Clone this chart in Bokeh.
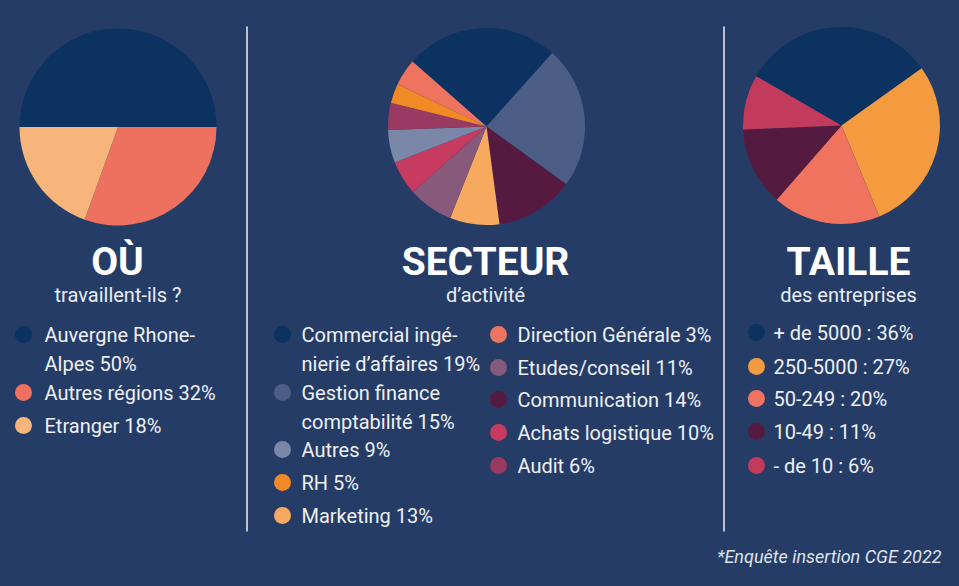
import math
from bokeh.plotting import figure
from bokeh.models import Range1d
from bokeh.core.properties import value
from bokeh.embed import file_html
from bokeh.resources import INLINE

# ---------------- data ----------------
# OÙ travaillent-ils ?
ou_labels = ["Auvergne Rhone-\nAlpes 50%", "Autres régions 32%", "Etranger 18%"]
ou_parts = [50.0, 30.5, 19.5]          # slice shares as drawn in the picture
ou_colors = ["#0b3260", "#ee715f", "#f8b57b"]

# SECTEUR d'activité (pie order, clockwise)
sect_names = ["Commercial ingénierie d’affaires", "Gestion finance comptabilité",
              "Communication", "Marketing", "Etudes/conseil", "Achats logistique",
              "Autres", "Audit", "RH", "Direction Générale"]
sect_parts = [25.1, 23.3, 12.9, 8.1, 7.4, 5.6, 5.4, 4.4, 3.2, 4.4]
sect_colors = ["#0b3260", "#4d5e86", "#561a40", "#f7a95f", "#87597a",
               "#c63b5f", "#7b87a9", "#9a3a62", "#f18a25", "#ef7460"]
sect_legend_left = ["Commercial ingé-\nnierie d’affaires 19%", "Gestion finance\ncomptabilité 15%",
                    "Autres 9%", "RH 5%", "Marketing 13%"]
sect_legend_left_colors = ["#0b3260", "#4d5e86", "#7b87a9", "#f18a25", "#f7a95f"]
sect_legend_right = ["Direction Générale 3%", "Etudes/conseil 11%", "Communication 14%",
                     "Achats logistique 10%", "Audit 6%"]
sect_legend_right_colors = ["#ef7460", "#87597a", "#561a40", "#c63b5f", "#9a3a62"]

# TAILLE des entreprises
taille_labels = ["+ de 5000 : 36%", "250-5000 : 27%", "50-249 : 20%", "10-49 : 11%", "- de 10 : 6%"]
taille_parts = [31.8, 28.6, 17.7, 12.9, 9.0]
taille_colors = ["#0b3260", "#f39b3e", "#ef735f", "#551a3f", "#c23b5d"]

titles = ["OÙ", "SECTEUR", "TAILLE"]
subtitles = ["travaillent-ils ?", "d’activité", "des entreprises"]
footer = "*Enquête insertion CGE 2022"

BG = "#253d66"
W, H = 943, 570
FONT = value("Roboto")


def Y(y_img):
    """image y (down) -> plot y (up)"""
    return H - y_img


p = figure(width=W, height=H, x_range=Range1d(0, W), y_range=Range1d(0, H),
           x_axis_type=None, y_axis_type=None, toolbar_location=None,
           output_backend="svg", min_border=0, background_fill_color=BG,
           border_fill_color=BG, outline_line_color=None)
p.grid.visible = False


def pie(cx, cy, r, parts, colors, start_deg):
    total = sum(parts)
    a0 = math.radians(start_deg)
    cum = 0.0
    starts, ends = [], []
    for v in parts:
        starts.append(a0 - 2 * math.pi * cum / total)
        cum += v
        ends.append(a0 - 2 * math.pi * cum / total)
    p.wedge(x=[cx] * len(parts), y=[Y(cy)] * len(parts), radius=r,
            start_angle=starts, end_angle=ends, direction="clock",
            fill_color=colors, line_color=None)


pie(117.5, 126.5, 98.5, ou_parts, ou_colors, 180)
pie(486, 126, 98.5, sect_parts, sect_colors, 138.7)
pie(841, 125, 98.5, taille_parts, taille_colors, 150)

# dividers
p.segment(x0=[246.5, 723.5], y0=[Y(26), Y(26)], x1=[246.5, 723.5], y1=[Y(531), Y(531)],
          line_color="#eef1f6", line_width=1.5)

# titles
p.text(x=[117, 485, 848], y=[Y(261)] * 3, text=titles, text_font=FONT,
       text_font_style="bold", text_font_size="39px", text_color="white",
       text_align="center", text_baseline="middle")
p.text(x=[117.5, 485, 848], y=[Y(294)] * 3, text=subtitles, text_font=FONT,
       text_font_size="20px", text_color="#e9ecf3",
       text_align="center", text_baseline="middle")


def legend_ml(dot_x, text_x, ys, labels, colors):
    p.scatter(x=[dot_x] * len(ys), y=[Y(v) for v in ys], size=17,
              fill_color=colors, line_color=None)
    p.text(x=[text_x] * len(ys), y=[Y(v - 12) for v in ys], text=labels, text_font=FONT,
           text_font_size="20px", text_color="#eef0f6", text_align="left",
           text_baseline="top", text_line_height=1.22)


legend_ml(23, 44, [334, 392, 425], ou_labels, ou_colors)
legend_ml(282, 301, [334, 392, 449, 482, 515], sect_legend_left, sect_legend_left_colors)
legend_ml(498, 517, [334, 367, 399, 432, 465], sect_legend_right, sect_legend_right_colors)
legend_ml(756, 773, [332, 366, 398, 431, 465], taille_labels, taille_colors)

p.text(x=[941], y=[Y(556)], text=[footer], text_font=FONT, text_font_style="italic",
       text_font_size="18px", text_color="#dfe3ec", text_align="right",
       text_baseline="middle")

html = file_html(p, INLINE)
html = html.replace("<head>", "<head><style>html,body{background-color:%s;}</style>" % BG, 1)
open("out.html", "w").write(html)
